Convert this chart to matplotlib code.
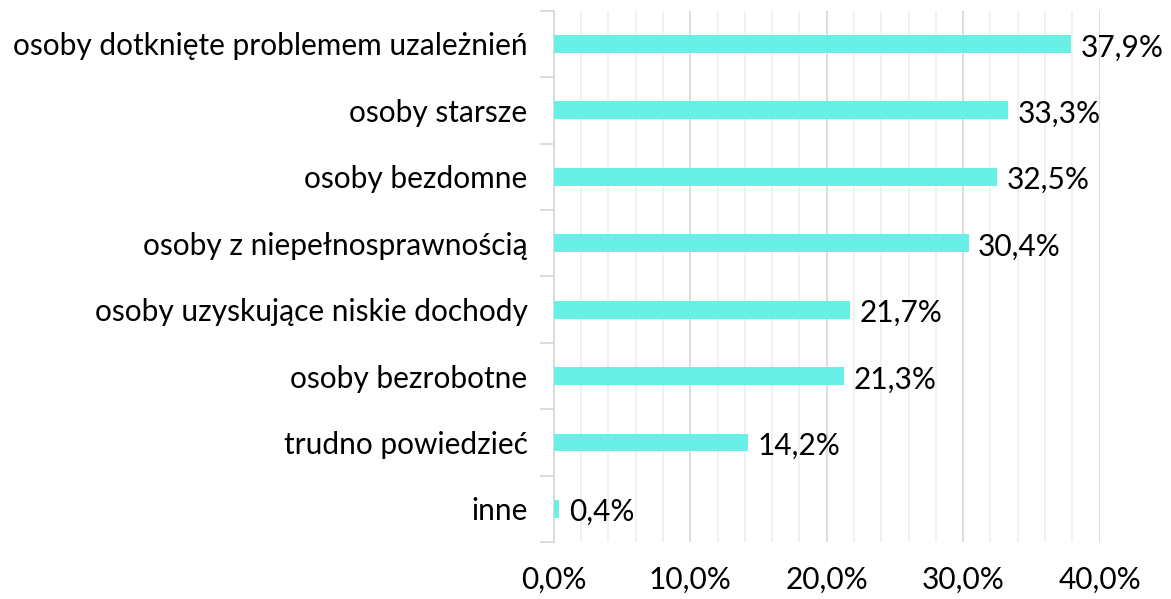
import matplotlib
matplotlib.use("Agg")
import matplotlib.pyplot as plt
from matplotlib.ticker import MultipleLocator, FuncFormatter

categories = [
    "osoby dotknięte problemem uzależnień",
    "osoby starsze",
    "osoby bezdomne",
    "osoby z niepełnosprawnością",
    "osoby uzyskujące niskie dochody",
    "osoby bezrobotne",
    "trudno powiedzieć",
    "inne",
]
values = [37.9, 33.3, 32.5, 30.4, 21.7, 21.3, 14.2, 0.4]
xticks = [0, 10, 20, 30, 40]

plt.rcParams['font.family'] = ['Lato', 'DejaVu Sans']
FS = 21.5

fig = plt.figure(figsize=(11.71, 5.99), dpi=100)
ax = fig.add_axes([0.473, 0.095, 0.466, 0.887])

n = len(categories)
ypos = list(range(n))
ax.barh(ypos, values, height=0.27, color="#69F0E6", zorder=3)
ax.set_ylim(n - 0.5, -0.5)
ax.set_xlim(0, 40)

for y, v in zip(ypos, values):
    ax.text(v + 0.7, y + 0.05, f"{v:.1f}%".replace(".", ","), va="center", ha="left",
            fontsize=FS, color="#000000")

ax.set_xticks(xticks)
ax.xaxis.set_minor_locator(MultipleLocator(2))
ax.xaxis.set_major_formatter(FuncFormatter(lambda x, p: f"{x:.1f}%".replace(".", ",")))
ax.tick_params(axis="x", which="both", length=0, pad=17, labelsize=FS)
ax.grid(axis="x", which="major", color="#d9d9d9", linewidth=1.3, zorder=0)
ax.grid(axis="x", which="minor", color="#f0f0f0", linewidth=1.3, zorder=0)

ax.set_yticks([i - 0.5 for i in range(n + 1)])
ax.set_yticklabels([])
ax.set_yticks(ypos, minor=True)
ax.set_yticklabels(categories, minor=True)
ax.tick_params(axis="y", which="major", length=10, color="#d9d9d9", width=1.3)
ax.tick_params(axis="y", which="minor", length=0, pad=19, labelsize=FS)

for s in ["top", "right", "bottom"]:
    ax.spines[s].set_visible(False)
ax.spines["left"].set_color("#d9d9d9")
ax.spines["left"].set_linewidth(1.3)

fig.savefig("out.png", dpi=100)
